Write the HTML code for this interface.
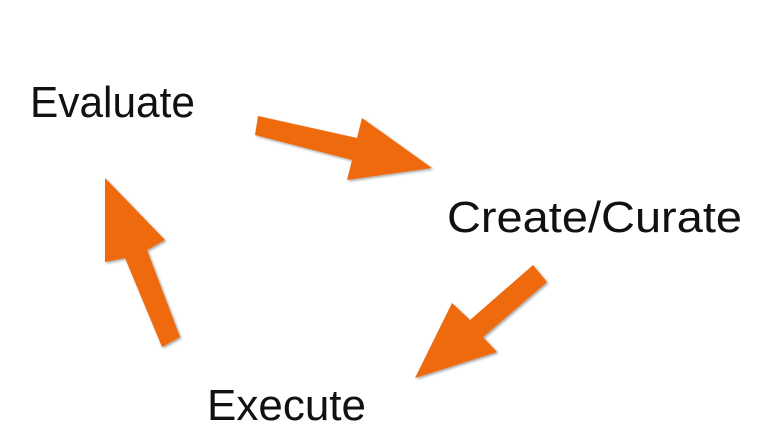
<!DOCTYPE html>
<html><head><style>html,body{margin:0;padding:0;background:#fff;}svg{display:block}</style></head>
<body>
<svg width="761" height="437" viewBox="0 0 761 437" xmlns="http://www.w3.org/2000/svg">
<defs><filter id="s" x="-10%" y="-10%" width="130%" height="130%"><feDropShadow dx="1.5" dy="1.5" stdDeviation="1.2" flood-color="#000" flood-opacity="0.35"/></filter></defs>
<g fill="#ee6a0c" filter="url(#s)">
<polygon points="258,116 357,138 362,118 432,168 347,180 352,160 255,135"/>
<polygon points="533,265 547,282 483,337 497,352 415,378 452,303 470,320"/>
<polygon points="105,178 165,240 147,250 180,337 162,347 125,258 105,262"/>
</g>
<g font-family="Liberation Sans, sans-serif" font-size="44" fill="#111">
<text x="30" y="117" textLength="165" lengthAdjust="spacingAndGlyphs">Evaluate</text>
<text x="447" y="232" textLength="295" lengthAdjust="spacingAndGlyphs">Create/Curate</text>
<text x="207" y="420" textLength="159" lengthAdjust="spacingAndGlyphs">Execute</text>
</g>
</svg>
</body></html>
